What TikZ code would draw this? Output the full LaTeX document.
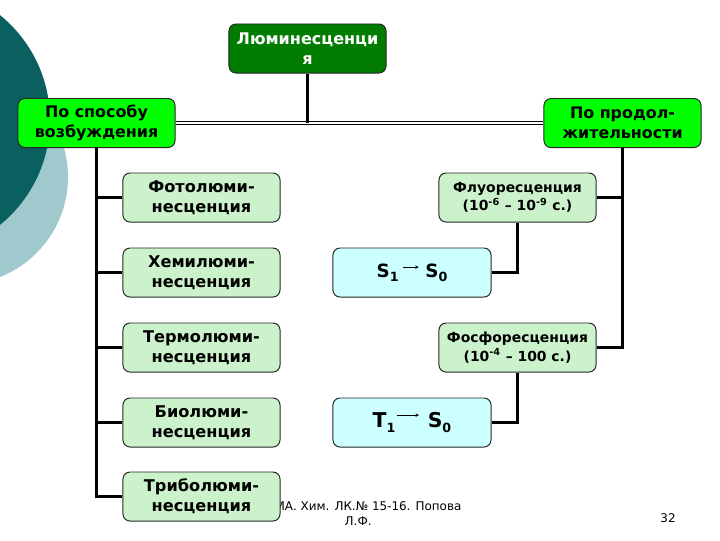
\documentclass[tikz,border=0pt]{standalone}
\usepackage{fontspec}
\setmainfont{DejaVu Sans}
\usetikzlibrary{arrows.meta}

\definecolor{tealdark}{RGB}{10,95,95}
\definecolor{teallight}{RGB}{160,201,205}
\definecolor{rootgreen}{RGB}{0,125,0}
\definecolor{brightgreen}{RGB}{0,255,0}
\definecolor{palegreen}{RGB}{204,242,204}
\definecolor{palecyan}{RGB}{204,255,255}

\newcommand{\trans}[2]{\raisebox{#2}{\tikz\draw[line width=0.5pt,-{Stealth[length=2.5pt,width=2.5pt]}] (0pt,0pt) -- (#1,0pt);}}
\newcommand{\lowidx}[1]{\raisebox{-3pt}{\fontsize{9}{9}\selectfont #1}}

\begin{document}
\begin{tikzpicture}[x=0.025cm,y=-0.025cm,
  box/.style={draw=black!85,line width=0.7pt,rounded corners=5pt,align=center,
    minimum width=3.925cm,minimum height=1.225cm,inner sep=1pt,
    font=\fontsize{11.3}{14}\selectfont\bfseries},
  rootbox/.style={box,fill=rootgreen,text=white,font=\fontsize{11.4}{14}\selectfont\bfseries},
  groupbox/.style={box,fill=brightgreen},
  kindbox/.style={box,fill=palegreen,font=\fontsize{11.5}{14}\selectfont\bfseries},
  timebox/.style={box,fill=palegreen,font=\fontsize{9.9}{13}\selectfont\bfseries},
  statebox/.style={box,fill=palecyan,minimum width=3.95cm,font=\fontsize{13}{16}\selectfont\bfseries},
  link/.style={line width=1.6pt}]
\useasboundingbox (0,0) rectangle (720,540);
\fill[teallight] (-39.5,177) circle (107.5);
\fill[tealdark] (-85,120) circle (135);

\node[font=\fontsize{8.5}{10.6}\selectfont,align=center] (foot) at (368,513.5) {МА. Хим. ЛК.№ 15-16. Попова\\Л.Ф.\hspace*{14pt}};
\node[font=\fontsize{8.5}{10.6}\selectfont] (page) at (668,518) {32};

\node[rootbox] (lum) at (307.5,48.5) {Люминесценци\\я};
\node[groupbox] (exc) at (96.5,123) {По способу\\возбуждения};
\node[groupbox] (dur) at (622.5,123) {По продол-\\жительности};

\node[kindbox] (photo) at (201.5,197.5) {Фотолюми-\\несценция};
\node[kindbox] (chemi) at (201.5,272.5) {Хемилюми-\\несценция};
\node[kindbox] (thermo) at (201.5,347.5) {Термолюми-\\несценция};
\node[kindbox] (bio) at (201.5,422.5) {Биолюми-\\несценция};
\node[kindbox] (tribo) at (201.5,496.5) {Триболюми-\\несценция};

\node[timebox] (fluor) at (517.5,197.5) {Флуоресценция\\(10\textsuperscript{-6} – 10\textsuperscript{-9} с.)};
\node[statebox] (sing) at (412,272.5) {S\lowidx{1}\hspace{3pt}\trans{11pt}{5.8pt}\hspace{4.5pt}S\lowidx{0}};
\node[timebox] (phos) at (517.5,347.5) {Фосфоресценция\\(10\textsuperscript{-4} – 100 с.)};
\node[statebox,font=\fontsize{14.5}{16}\selectfont\bfseries] (trip) at (412,422.5) {T\lowidx{1}\hspace{0.5pt}\trans{16pt}{7.8pt}\hspace{6pt}S\lowidx{0}};

\draw[line width=1pt,double=white,double distance=1.4pt] (exc.east) -- (dur.west);
\draw[link] (lum.south) -- (lum.south |- exc.east);

\draw[link] (exc.south) -- (exc.south |- tribo.west) -- (tribo.west);
\foreach \k in {photo,chemi,thermo,bio}
  \draw[link] (exc.south |- \k.west) -- (\k.west);

\draw[link] (dur.south) -- (dur.south |- phos.east) -- (phos.east);
\draw[link] (dur.south |- fluor.east) -- (fluor.east);

\draw[link] (fluor.south) |- (sing.east);
\draw[link] (phos.south) |- (trip.east);
\end{tikzpicture}
\end{document}
